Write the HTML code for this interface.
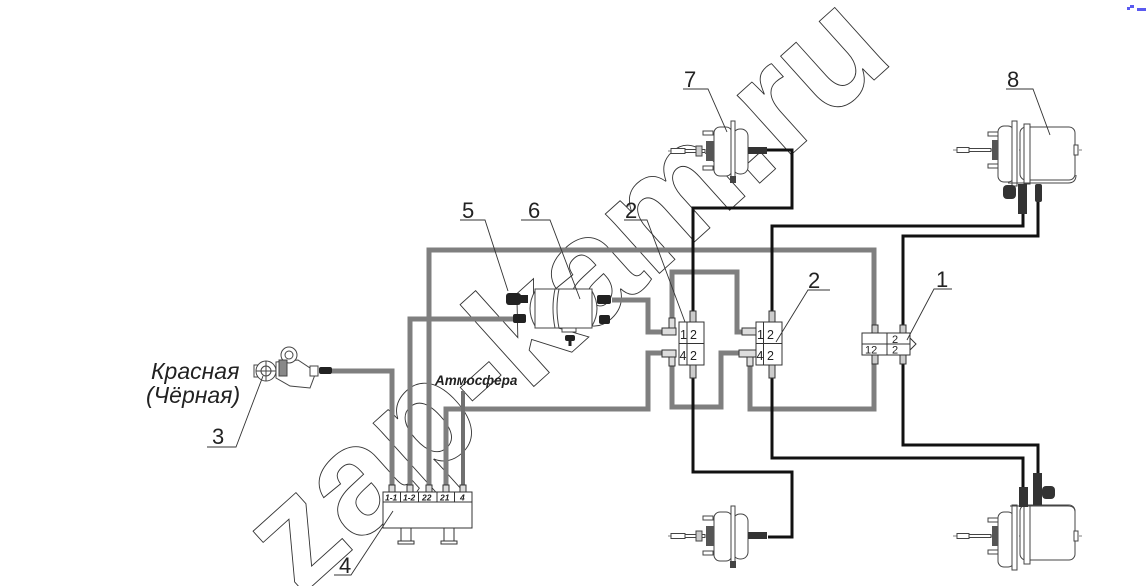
<!DOCTYPE html>
<html><head><meta charset="utf-8"><style>
html,body{margin:0;padding:0;background:#fff;width:1148px;height:586px;overflow:hidden;}
svg{display:block;overflow:hidden;}
.num{font-family:"Liberation Sans",sans-serif;font-size:22px;fill:#222;}
.lab{font-family:"Liberation Sans","DejaVu Sans",sans-serif;font-style:italic;fill:#222;}
.cell{font-family:"Liberation Sans",sans-serif;font-size:12.5px;fill:#222;}
.mf{font-family:"Liberation Sans",sans-serif;font-style:italic;font-weight:bold;font-size:8.5px;fill:#222;}
</style></head><body>
<svg width="1148" height="586" viewBox="0 0 1148 586" xmlns="http://www.w3.org/2000/svg">
<rect width="1148" height="586" fill="#fff"/>

<!-- watermark -->
<text x="300" y="597" transform="rotate(-42 300 597)" font-family="Liberation Sans, sans-serif" font-weight="bold" font-size="152" fill="none" stroke="#333" stroke-width="0.9">zap-kam.ru</text>

<!-- grey pipes -->
<g stroke="#7f7f7f" stroke-width="5" fill="none" stroke-linejoin="miter">
<path d="M332 371 H392 V490"/>
<path d="M410 490 V319 H517"/>
<path d="M429 490 V250 H874 V409 H750 V362"/>
<path d="M672 325 V272 H737 V332 H753"/>
<path d="M612 300 H648 V332 H676"/>
<path d="M446 490 V409 H648 V353 H668"/>
<path d="M672 358 V407 H721 V353 H745"/>
<path d="M463 490 V391" stroke-width="4" stroke="#707070"/>
</g>

<!-- black pipes -->
<g stroke="#111" stroke-width="3" fill="none">
<path d="M767 150 H792 V208 H693 V472 H792 V537 H768"/>
<path d="M1023 213 V226 H772 V458 H1023 V487"/>
<path d="M1038 200 V236 H903 V445 H1038 V477"/>
</g>

<!-- manifold 4 -->
<g stroke="#333" stroke-width="1" fill="#fff">
<rect x="383" y="492" width="89" height="36"/>
<line x1="383" y1="502" x2="472" y2="502"/>
<line x1="400.5" y1="492" x2="400.5" y2="502"/>
<line x1="418.5" y1="492" x2="418.5" y2="502"/>
<line x1="437" y1="492" x2="437" y2="502"/>
<line x1="454.5" y1="492" x2="454.5" y2="502"/>
<rect x="389" y="485" width="6" height="7" fill="#ddd"/>
<rect x="407" y="485" width="6" height="7" fill="#ddd"/>
<rect x="426" y="485" width="6" height="7" fill="#ddd"/>
<rect x="443" y="485" width="6" height="7" fill="#ddd"/>
<rect x="460" y="485" width="6" height="7" fill="#ddd"/>
<rect x="401" y="528" width="10" height="13"/>
<rect x="398" y="541" width="16" height="3"/>
<rect x="444" y="528" width="10" height="13"/>
<rect x="441" y="541" width="16" height="3"/>
</g>
<text class="mf" x="385" y="500.5">1-1</text>
<text class="mf" x="403" y="500.5">1-2</text>
<text class="mf" x="422" y="500.5">22</text>
<text class="mf" x="440" y="500.5">21</text>
<text class="mf" x="460" y="500.5">4</text>

<!-- valves 2 -->
<g stroke="#333" stroke-width="1" fill="#fff">
<rect x="690" y="311" width="6" height="11" fill="#ccc"/>
<rect x="690" y="365" width="6" height="13" fill="#ccc"/>
<rect x="679" y="322" width="25" height="43"/>
<line x1="687" y1="322" x2="687" y2="365"/>
<line x1="679" y1="343.5" x2="704" y2="343.5"/>
<rect x="662" y="328" width="14" height="7" fill="#ddd"/>
<rect x="669" y="318" width="6" height="10" fill="#ddd"/>
<rect x="662" y="350" width="14" height="7" fill="#ddd"/>
<rect x="669" y="357" width="6" height="9" fill="#ddd"/>
<rect x="769" y="311" width="6" height="11" fill="#ccc"/>
<rect x="769" y="365" width="6" height="13" fill="#ccc"/>
<rect x="756" y="322" width="26" height="43"/>
<line x1="763.5" y1="322" x2="763.5" y2="365"/>
<line x1="756" y1="343.5" x2="782" y2="343.5"/>
<rect x="742" y="328" width="14" height="7" fill="#ddd"/>
<rect x="739" y="350" width="17" height="7" fill="#ddd"/>
<rect x="747" y="357" width="6" height="9" fill="#ddd"/>
</g>
<text class="cell" x="680" y="339">1</text>
<text class="cell" x="690" y="339">2</text>
<text class="cell" x="679.5" y="360">4</text>
<text class="cell" x="690" y="360">2</text>
<text class="cell" x="757" y="339">1</text>
<text class="cell" x="767" y="339">2</text>
<text class="cell" x="756.5" y="360">4</text>
<text class="cell" x="767" y="360">2</text>

<!-- valve 1 -->
<g stroke="#333" stroke-width="1" fill="#fff">
<rect x="872" y="325" width="6" height="8" fill="#ccc"/>
<rect x="872" y="355" width="6" height="9" fill="#ccc"/>
<rect x="900" y="325" width="6" height="8" fill="#ccc"/>
<rect x="900" y="355" width="6" height="9" fill="#ccc"/>
<rect x="862" y="333" width="48" height="22"/>
<line x1="887" y1="333" x2="887" y2="355"/>
<line x1="862" y1="344" x2="910" y2="344"/>
<polygon points="910,338 916,344 910,350"/>
</g>
<text class="cell" x="865" y="353.5" style="font-size:11px">12</text>
<text class="cell" x="892" y="343" style="font-size:11px">2</text>
<text class="cell" x="892" y="353.5" style="font-size:11px">2</text>

<!-- receiver 6 and valve 5 -->
<g stroke="#444" stroke-width="1" fill="#fff">
<path d="M535 291 Q525 308.5 535 326"/>
<path d="M592 291 Q602 308.5 592 326"/>
<rect x="535" y="289" width="57" height="39"/>
<path d="M555 289 Q551 308 555 328" fill="none"/>
<path d="M559 289 Q555 308 559 328" fill="none"/>
<rect x="562" y="328" width="14" height="4"/>
</g>
<g fill="#222">
<rect x="506" y="293" width="15" height="12" rx="3"/>
<rect x="520" y="295" width="8" height="8"/>
<rect x="513" y="314" width="13" height="9" rx="2"/>
<rect x="597" y="295" width="14" height="9" rx="2"/>
<rect x="599" y="315" width="11" height="9" rx="2"/>
<rect x="565" y="335" width="10" height="6" rx="2"/>
<rect x="568.5" y="340" width="3" height="6"/>
</g>

<!-- brake chamber 7 (top) -->
<g id="ch7">
<line x1="668" y1="151" x2="762" y2="151" stroke="#555" stroke-width="0.8" stroke-dasharray="8 2 2 2"/>
<g stroke="#444" stroke-width="1" fill="#fff">
<rect x="671" y="148.5" width="14" height="5"/>
<rect x="685" y="149.5" width="20" height="3"/>
<rect x="696" y="146" width="6" height="10" fill="#ccc"/>
<rect x="703" y="131" width="10" height="4"/>
<rect x="703" y="166" width="10" height="4"/>
<rect x="714" y="127" width="18" height="49" rx="6"/>
<rect x="733" y="129" width="15" height="45" rx="7"/>
<rect x="731" y="121" width="4" height="61"/>
</g>
<rect x="706" y="141" width="8" height="20" fill="#555"/>
<rect x="730" y="176" width="6" height="7" fill="#444"/>
<rect x="748" y="147" width="19" height="7" fill="#333"/>
</g>
<use href="#ch7" transform="translate(0 385)"/>

<!-- spring brake chamber 8 (top) -->
<line x1="953" y1="150" x2="1082" y2="150" stroke="#555" stroke-width="0.8" stroke-dasharray="8 2 2 2"/>
<g stroke="#444" stroke-width="1" fill="#fff">
<rect x="957" y="147.5" width="12" height="5"/>
<rect x="969" y="148.5" width="22" height="3"/>
<rect x="988" y="132" width="10" height="4"/>
<rect x="988" y="164" width="10" height="4"/>
<rect x="1020" y="127" width="55" height="53" rx="6"/>
<rect x="998" y="126" width="16" height="56" rx="6"/>
<rect x="1012" y="121" width="5" height="65"/>
<rect x="1024" y="124" width="6" height="60"/>
<rect x="1074" y="145" width="4" height="10"/>
<path d="M1008 183 H1068 Q1076 183 1076 175" fill="none"/>
</g>
<rect x="992" y="140" width="6" height="20" fill="#555"/>
<g fill="#333">
<rect x="1003" y="185" width="13" height="14" rx="4"/>
<rect x="1018" y="184" width="9" height="30"/>
<rect x="1035" y="184" width="7" height="18" rx="2"/>
</g>

<!-- spring brake chamber (bottom) -->
<line x1="953" y1="536" x2="1082" y2="536" stroke="#555" stroke-width="0.8" stroke-dasharray="8 2 2 2"/>
<g stroke="#444" stroke-width="1" fill="#fff">
<rect x="957" y="533.5" width="12" height="5"/>
<rect x="969" y="534.5" width="22" height="3"/>
<rect x="988" y="518" width="10" height="4"/>
<rect x="988" y="550" width="10" height="4"/>
<rect x="1020" y="505" width="55" height="55" rx="6"/>
<rect x="998" y="512" width="16" height="55" rx="6"/>
<rect x="1012" y="505" width="5" height="65"/>
<rect x="1024" y="506" width="6" height="58"/>
<rect x="1074" y="531" width="4" height="10"/>
<path d="M1010 506 H1068 Q1075 506 1075 512" fill="none"/>
</g>
<rect x="992" y="526" width="6" height="20" fill="#555"/>
<g fill="#333">
<rect x="1019" y="487" width="9" height="20"/>
<rect x="1033" y="473" width="9" height="32"/>
<rect x="1042" y="486" width="13" height="13" rx="4"/>
</g>

<!-- hand valve 3 -->
<g stroke="#444" stroke-width="1" fill="#fff">
<rect x="254" y="365" width="5" height="12"/>
<polygon points="276,362 298,360 316,372 310,388 290,386 276,378"/>
<circle cx="266" cy="371" r="10"/>
<circle cx="266" cy="371" r="5"/>
<line x1="256" y1="371" x2="276" y2="371"/>
<line x1="266" y1="361" x2="266" y2="381"/>
<circle cx="289" cy="355" r="8"/>
<circle cx="289" cy="355" r="4"/>
<rect x="279" y="360" width="8" height="16" fill="#888"/>
<rect x="310" y="366" width="8" height="10"/>
</g>
<rect x="319" y="367" width="13" height="7" rx="2" fill="#222"/>

<!-- text labels -->
<text class="lab" x="151" y="379" style="font-size:23px">Красная</text>
<text class="lab" x="146" y="403" style="font-size:23px">(Чёрная)</text>
<text class="lab" x="435" y="385" style="font-size:13.5px;font-weight:bold">Атмосфера</text>

<!-- leaders -->
<g stroke="#333" stroke-width="0.9" fill="none">
<path d="M207 447 H236 L263 376"/>
<path d="M334 575 H351 L393 511"/>
<path d="M460 220 H485 L508 291"/>
<path d="M521 220 H550 L580 299"/>
<path d="M683 89 H708 L727 132"/>
<path d="M624 220 H647 L685 322"/>
<path d="M830 290 H808 L776 342"/>
<path d="M952 289 H934 L907 340"/>
<path d="M1006 89 H1033 L1050 135"/>
</g>
<text class="num" x="212" y="444">3</text>
<text class="num" x="339" y="573">4</text>
<text class="num" x="462" y="218">5</text>
<text class="num" x="528" y="218">6</text>
<text class="num" x="684" y="87">7</text>
<text class="num" x="625" y="218">2</text>
<text class="num" x="808" y="288">2</text>
<text class="num" x="936" y="287">1</text>
<text class="num" x="1007" y="87">8</text>

<!-- corner marks -->
<g fill="#5a5af0">
<rect x="1127" y="7" width="3" height="3"/>
<rect x="1130" y="5" width="4" height="3"/>
<rect x="1137" y="8" width="9" height="3"/>
</g>
</svg>
</body></html>
